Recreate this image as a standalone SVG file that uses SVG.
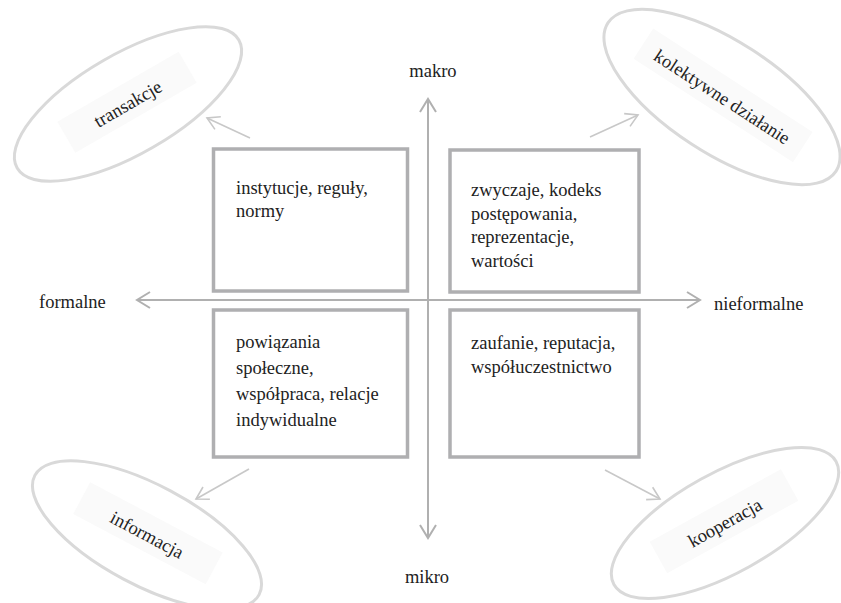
<svg xmlns="http://www.w3.org/2000/svg" width="841" height="603" viewBox="0 0 841 603">
<style>
text{font-family:"Liberation Serif","Times New Roman",serif;font-size:18.5px;fill:#222}
.box{fill:#fff;stroke:#afafb1;stroke-width:3.5}
.ell{fill:#fff;stroke:#d9d9d9;stroke-width:3}
.bg{fill:#fafafa}
.axis{stroke:#b0b0b0;stroke-width:2;fill:none}
.diag{stroke:#c8c8c8;stroke-width:1.6;fill:none}
</style>
<defs>
<marker id="ha" viewBox="-15 -10 17 20" refX="0" refY="0" markerWidth="17" markerHeight="20" markerUnits="userSpaceOnUse" orient="auto">
<path d="M-13,-8 L0,0 L-13,8" fill="none" stroke="#b0b0b0" stroke-width="2"/>
</marker>
<marker id="hd" viewBox="-15 -10 17 20" refX="0" refY="0" markerWidth="17" markerHeight="20" markerUnits="userSpaceOnUse" orient="auto">
<path d="M-12,-7 L0,0 L-12,7" fill="none" stroke="#c8c8c8" stroke-width="1.6"/>
</marker>
</defs>
<g id="connectors">
<line class="axis" x1="428" y1="538" x2="428" y2="99" marker-end="url(#ha)"/>
<line class="axis" x1="428" y1="99" x2="428" y2="538" marker-end="url(#ha)"/>
<line class="axis" x1="700" y1="300" x2="137" y2="300" marker-end="url(#ha)"/>
<line class="axis" x1="137" y1="300" x2="700" y2="300" marker-end="url(#ha)"/>
<line class="diag" x1="250" y1="138" x2="207" y2="118" marker-end="url(#hd)"/>
<line class="diag" x1="590" y1="137" x2="638" y2="115" marker-end="url(#hd)"/>
<line class="diag" x1="249" y1="469" x2="196" y2="499" marker-end="url(#hd)"/>
<line class="diag" x1="605" y1="470" x2="660" y2="499" marker-end="url(#hd)"/>
</g>
<g id="axis-labels">
<text x="433" y="77" text-anchor="middle">makro</text>
<text x="427" y="583" text-anchor="middle">mikro</text>
<text x="39" y="308">formalne</text>
<text x="714" y="310">nieformalne</text>
</g>
<g id="box-tl">
<rect class="box" x="213.5" y="149" width="194" height="142"/>
<text x="236" y="194">instytucje, reguły,</text>
<text x="236" y="217">normy</text>
</g>
<g id="box-tr">
<rect class="box" x="450" y="150" width="189" height="142"/>
<text x="471" y="196">zwyczaje, kodeks</text>
<text x="471" y="219.5">postępowania,</text>
<text x="471" y="243">reprezentacje,</text>
<text x="471" y="266.5">wartości</text>
</g>
<g id="box-bl">
<rect class="box" x="213.5" y="310" width="194" height="147"/>
<text x="236" y="348">powiązania</text>
<text x="236" y="374">społeczne,</text>
<text x="236" y="400">współpraca, relacje</text>
<text x="236" y="426">indywidualne</text>
</g>
<g id="box-br">
<rect class="box" x="450" y="310" width="189" height="147"/>
<text x="471" y="349">zaufanie, reputacja,</text>
<text x="471" y="373">współuczestnictwo</text>
</g>
<g id="ell-transakcje" transform="translate(128,104) rotate(-30)">
<ellipse class="ell" cx="0" cy="0" rx="128" ry="50"/>
<rect class="bg" x="-70" y="-20" width="140" height="36"/>
<text x="0" y="6" text-anchor="middle">transakcje</text>
</g>
<g id="ell-kolektywne" transform="translate(722,97) rotate(33)">
<ellipse class="ell" cx="0" cy="0" rx="136" ry="56"/>
<rect class="bg" x="-95" y="-20" width="190" height="36"/>
<text x="0" y="6" text-anchor="middle">kolektywne działanie</text>
</g>
<g id="ell-informacja" transform="translate(147,535) rotate(28)">
<ellipse class="ell" cx="0" cy="0" rx="127" ry="50"/>
<rect class="bg" x="-75" y="-20" width="150" height="36"/>
<text x="0" y="6" text-anchor="middle">informacja</text>
</g>
<g id="ell-kooperacja" transform="translate(725,523) rotate(-29)">
<ellipse class="ell" cx="0" cy="0" rx="127" ry="50"/>
<rect class="bg" x="-75" y="-20" width="150" height="36"/>
<text x="0" y="6" text-anchor="middle">kooperacja</text>
</g>
</svg>
